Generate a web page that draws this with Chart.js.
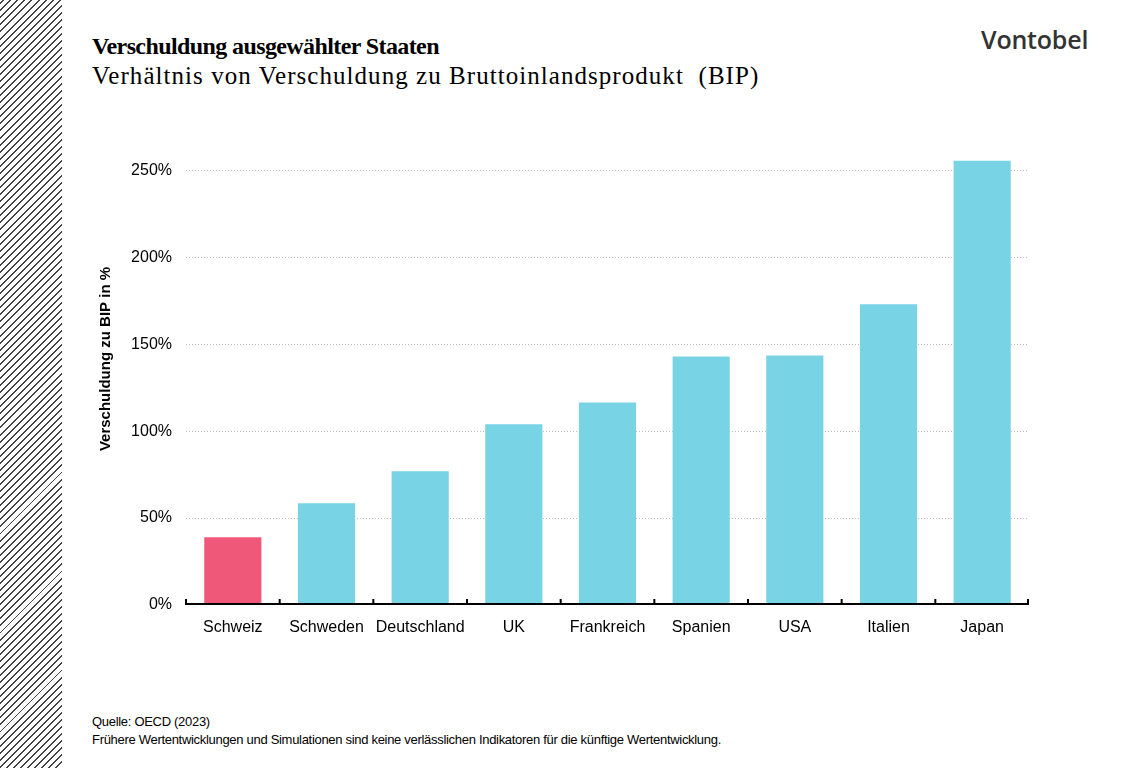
<!DOCTYPE html>
<html><head><meta charset="utf-8">
<script src="https://cdn.jsdelivr.net/npm/chart.js@4/dist/chart.umd.min.js"></script>
<style>
html,body{margin:0;padding:0;background:#fff;}
body{width:1122px;height:768px;position:relative;overflow:hidden;font-family:"Liberation Sans",Arial,sans-serif;}
#hatch{position:absolute;left:0;top:0;width:62px;height:768px;
background:repeating-linear-gradient(-45deg,#fff 0px,#fff 3.6px,#444 3.6px,#444 5px);}
#title{position:absolute;left:92px;top:34px;line-height:1;font-family:"Liberation Serif","DejaVu Serif",serif;font-weight:bold;font-size:24px;letter-spacing:-0.6px;color:#000;white-space:nowrap;}
#sub{position:absolute;left:92px;top:63px;line-height:1;font-family:"Liberation Serif","DejaVu Serif",serif;font-size:25px;letter-spacing:1.05px;color:#000;white-space:nowrap;}
#logo{position:absolute;left:981px;top:26.5px;line-height:1;font-family:"Open Sans",Inter,sans-serif;font-weight:600;font-size:25px;color:#333;letter-spacing:-0.2px;}
#foot{position:absolute;left:92px;top:713px;font-size:13px;line-height:18px;color:#000;letter-spacing:-0.3px;white-space:nowrap;}
#c{position:absolute;left:0;top:0;}
</style></head>
<body>
<div id="hatch"></div>
<div id="title">Verschuldung ausgewählter Staaten</div>
<div id="sub">Verhältnis von Verschuldung zu Bruttoinlandsprodukt &nbsp;(BIP)</div>
<div id="logo">Vontobel</div>
<div id="foot">Quelle: OECD (2023)<br>Frühere Wertentwicklungen und Simulationen sind keine verlässlichen Indikatoren für die künftige Wertentwicklung.</div>
<canvas id="c" width="1122" height="768"></canvas>
<script>
const categories = ["Schweiz","Schweden","Deutschland","UK","Frankreich","Spanien","USA","Italien","Japan"];
const debtRatio = [39, 58.5, 77, 104, 116.5, 143, 143.5, 173, 255.5];
const highlight = ["Schweiz"];
const yTicks = [0, 50, 100, 150, 200, 250];
const yAxisTitle = "Verschuldung zu BIP in %";

const FONT = '"Liberation Sans", Arial, sans-serif';

const decor = {
  id: 'decor',
  afterDraw(chart) {
    const ctx = chart.ctx, a = chart.chartArea, n = categories.length;
    const xs = chart.scales.x;
    const step = xs.getPixelForValue(1) - xs.getPixelForValue(0);
    ctx.save();
    ctx.strokeStyle = '#000';
    ctx.lineWidth = 2;
    ctx.beginPath();
    ctx.moveTo(a.left, a.bottom - 1); ctx.lineTo(a.right, a.bottom - 1);
    for (let i = 0; i <= n; i++) {
      const x = i < n ? xs.getPixelForValue(i) - step / 2 : a.right - 1;
      ctx.moveTo(x, a.bottom); ctx.lineTo(x, a.bottom - 6);
    }
    ctx.stroke();
    // rotated y-axis title
    ctx.translate(106, 359);
    ctx.rotate(-Math.PI / 2);
    ctx.fillStyle = '#000';
    ctx.font = 'bold 15px ' + FONT;
    ctx.textAlign = 'center';
    ctx.textBaseline = 'middle';
    ctx.fillText(yAxisTitle, 0, 0);
    ctx.restore();
  }
};

new Chart(document.getElementById('c'), {
  type: 'bar',
  data: {
    labels: categories,
    datasets: [{
      data: debtRatio,
      backgroundColor: categories.map(c => highlight.includes(c) ? '#F0587A' : '#78D3E5'),
      borderWidth: 0,
      barPercentage: 0.61,
      categoryPercentage: 1
    }]
  },
  plugins: [decor],
  options: {
    responsive: false,
    animation: false,
    devicePixelRatio: 1,
    layout: { padding: { left: 92, right: 93, top: 153, bottom: 123 } },
    plugins: { legend: { display: false }, tooltip: { enabled: false } },
    scales: {
      x: {
        grid: { display: false },
        border: { display: false },
        ticks: { color: '#000', font: { family: FONT, size: 16 }, padding: 5, maxRotation: 0, minRotation: 0, autoSkip: false },
        afterFit(s) { s.height = 40; }
      },
      y: {
        min: 0, max: 260,
        afterBuildTicks(s) { s.ticks = yTicks.map(v => ({ value: v })); },
        grid: {
          color: ctx => ctx.tick && ctx.tick.value === 0 ? 'rgba(0,0,0,0)' : '#bdbdbd',
          lineWidth: 1,
          drawTicks: false
        },
        border: { display: false, dash: [1, 2] },
        ticks: {
          color: '#000', padding: 14,
          font: { family: FONT, size: 16 },
          callback: v => v + '%'
        },
        title: { display: false },
        afterFit(s) { s.width = 94; }
      }
    }
  }
});
</script>
</body></html>
